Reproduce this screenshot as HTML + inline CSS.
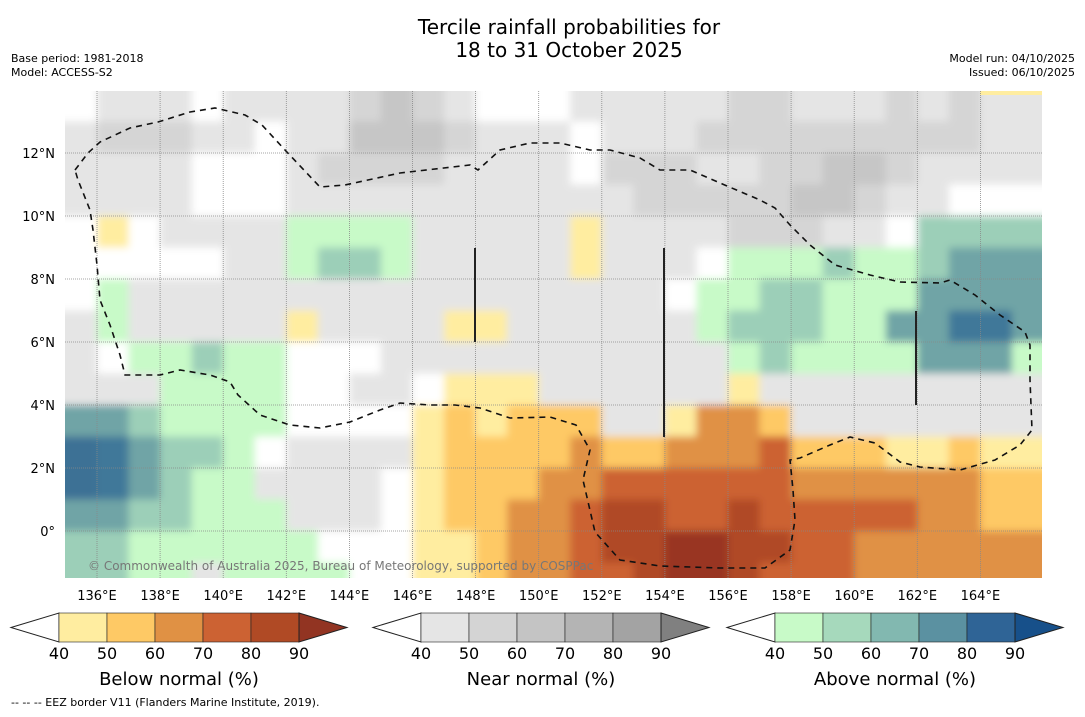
<!DOCTYPE html>
<html><head><meta charset="utf-8">
<style>
body{margin:0;background:#fff;width:1085px;height:713px;overflow:hidden;font-family:"DejaVu Sans","Liberation Sans",sans-serif;}
svg text{font-family:"DejaVu Sans","Liberation Sans",sans-serif;}
</style></head>
<body>
<svg id="chart" width="1085" height="713" viewBox="0 0 1085 713" xmlns="http://www.w3.org/2000/svg">
<defs>
<clipPath id="mapclip"><rect x="65" y="91" width="977" height="487"/></clipPath>
<filter id="soft" x="-5%" y="-5%" width="110%" height="110%"><feGaussianBlur stdDeviation="4" edgeMode="duplicate"/></filter>
</defs>
<rect width="1085" height="713" fill="#fff"/>
<text x="569" y="34" font-size="20" text-anchor="middle">Tercile rainfall probabilities for</text>
<text x="569" y="57" font-size="20" text-anchor="middle">18 to 31 October 2025</text>
<text x="11" y="62" font-size="11">Base period: 1981-2018</text>
<text x="11" y="76" font-size="11">Model: ACCESS-S2</text>
<text x="1075" y="62" font-size="11" text-anchor="end">Model run: 04/10/2025</text>
<text x="1075" y="76" font-size="11" text-anchor="end">Issued: 06/10/2025</text>
<g clip-path="url(#mapclip)"><g id="cells" filter="url(#soft)"></g></g>
<rect x="980" y="91" width="62" height="4" fill="#ffeda0"/>
<g id="grid"></g>
<path fill="none" stroke="#111" stroke-width="1.6" stroke-dasharray="6,5"
d="M75,170 L88,153 L100,142 L130,128 L158,122 L190,112 L215,108 L245,115 L262,125 L285,150 L320,187 L345,185 L400,173 L470,165 L478,170 L500,150 L530,143 L560,143 L590,150 L610,150 L640,158 L660,170 L690,170 L720,183 L760,200 L775,208 L790,225 L810,245 L835,265 L870,275 L900,282 L940,283 L950,280 L975,295 L1000,315 L1025,332 L1030,345 L1030,380 L1032,430 L1020,445 L995,460 L960,470 L920,467 L900,462 L875,443 L850,437 L830,445 L800,458 L790,460 L793,490 L795,520 L790,550 L765,568 L720,568 L660,566 L620,560 L595,532 L583,480 L590,450 L576,425 L550,417 L510,418 L480,408 L455,405 L430,405 L400,403 L380,410 L350,422 L320,428 L290,425 L260,415 L238,395 L230,382 L210,375 L180,370 L160,375 L125,375 L120,355 L110,325 L100,300 L97,265 L93,230 L90,210 L78,180 Z"/>
<line x1="475" y1="248" x2="475" y2="342" stroke="#222" stroke-width="2"/>
<line x1="664" y1="248" x2="664" y2="437" stroke="#222" stroke-width="2"/>
<line x1="916" y1="311" x2="916" y2="405" stroke="#222" stroke-width="2"/>
<text x="88" y="570" font-size="12" fill="#777">© Commonwealth of Australia 2025, Bureau of Meteorology, supported by COSPPac</text>
<g id="xlabels"></g>
<g id="ylabels"></g>
<g id="bars"></g>
<text x="11" y="706" font-size="11">-- -- -- EEZ border V11 (Flanders Marine Institute, 2019).</text>
</svg>
<script>
// Grid data: rows from 14N down to -2 (1° bands), cols lon 135..165
const lonStart = 135;
const latTop = 14;
const gridRows = [
".ggg.gggghkhg...ggggghhggghghgg",
"ghhhgg.ggkkkhggg.ggghhhhhhhhhgg",
"gggg...ghhhhgggg.hhhgghhkkhgggg",
"gggg...ggggggggggghhhhhkkhgg...",
".y.ggggccccgggggygggghhhgg.CCCC",
".....ggcCCcgggggyggg.cccCccCttt",
".c"+"ggggggggg"+"gggggggg"+"."+"cc"+"CC"+"ccc"+"tttt",
"gcgggggyggggyyggggggcCCCccttbbt",
"g.ccCcc...gggggggggggcCcccctttc",
"gggcccc..gg.yyyggggggyggggggggg",
"ttCcccc....yoyooogg"+"yOOogggggggg",
"BbtCCc.ggggyooooOooOOOrooo"+"yyoyy",
"BbtCccgggg.yoooOOrrrrrrOOOOOOoo",
"ttCCcccggg.yooOOrRRrrRrrrrrOOoo",
"CCcccccc...yyoOOrRRDDRRrrOOOOOO",
"CCccgcccc..yyoOOrrRDDRrrrOOOOOO"
];
const palette = {
".":"#ffffff","g":"#e5e5e5","h":"#d5d5d5","k":"#c6c6c6",
"y":"#ffeda0","o":"#fec965","O":"#e09144","r":"#cc6233","R":"#b04a25","D":"#993520",
"c":"#c8fac8","C":"#9ccfb8","t":"#6fa4a6","b":"#3f7899","B":"#3d7195"
};
const xTicks = [136,138,140,142,144,146,148,150,152,154,156,158,160,162,164];
const yTicks = [12,10,8,6,4,2,0];
const cbTicks = [40,50,60,70,80,90];
const belowColors = ["#ffeda0","#fec965","#e09144","#cc6233","#b04a25"];
const nearColors = ["#e5e5e5","#d4d4d4","#c4c4c4","#b4b4b4","#a3a3a3"];
const aboveColors = ["#c8fac8","#a6d9bc","#82b8b0","#5b91a1","#2f6496"];
const NS = "http://www.w3.org/2000/svg";
const mapL=65, mapR=1042, mapT=91, mapB=578;
function xLon(lon){return 97+(lon-136)*31.55;}
function yLat(lat){return 531-lat*31.5;}
function mk(tag,attrs,parent){const e=document.createElementNS(NS,tag);for(const k in attrs)e.setAttribute(k,attrs[k]);parent.appendChild(e);return e;}
const cells=document.getElementById('cells');
gridRows.forEach((row,r)=>{
  for(let c=0;c<31;c++){
    const ch=row[c]||"g";
    let x0=xLon(lonStart+c), x1=xLon(lonStart+c+1);
    let y0=yLat(latTop-r), y1=yLat(latTop-r-1);
    if(c===0) x0-=20; if(c===30) x1+=20;
    if(r===0) y0-=20; if(r===gridRows.length-1) y1+=20;
    const rc=mk('rect',{x:x0,y:y0,width:x1-x0+0.6,height:y1-y0+0.6,fill:palette[ch]||"#e5e5e5"},cells);
    
    
  }
});
const grid=document.getElementById('grid');
xTicks.forEach(t=>{const l=mk('line',{x1:xLon(t),x2:xLon(t),y1:mapT,y2:mapB,stroke:"#888","stroke-width":0.8,"stroke-dasharray":"1,1"},grid);

});
yTicks.forEach(t=>{const l=mk('line',{x1:mapL,x2:mapR,y1:yLat(t),y2:yLat(t),stroke:"#888","stroke-width":0.8,"stroke-dasharray":"1,1"},grid);

});
const xl=document.getElementById('xlabels');
xTicks.forEach(t=>{const e=mk('text',{x:xLon(t),y:600,"font-size":13,"text-anchor":"middle"},xl);e.textContent=t+"°E";

});
const yl=document.getElementById('ylabels');
yTicks.forEach(t=>{const e=mk('text',{x:55,y:yLat(t)+5,"font-size":13,"text-anchor":"end"},yl);e.textContent=t===0?"0°":t+"°N";

});
const bars=document.getElementById('bars');
function colorbar(x0,cols,endCol,title){
  const g=mk('g',{},bars);
  
  
  const w=48,y0=613,y1=642,ym=627.5,bx=x0+48;
  mk('polygon',{points:`${x0},${ym} ${bx},${y0} ${bx},${y1}`,fill:"#fff",stroke:"#222","stroke-width":1},g);
  cols.forEach((c,i)=>{mk('rect',{x:bx+i*w,y:y0,width:w,height:y1-y0,fill:c,stroke:"#222","stroke-width":0.6},g);});
  const ex=bx+5*w;
  mk('polygon',{points:`${ex},${y0} ${ex+48},${ym} ${ex},${y1}`,fill:endCol,stroke:"#222","stroke-width":1},g);
  cbTicks.forEach((t,i)=>{const e=mk('text',{x:bx+i*w,y:659,"font-size":16,"text-anchor":"middle"},g);e.textContent=t;
  
  });
  const tt=mk('text',{x:bx+2.5*w,y:685,"font-size":18,"text-anchor":"middle"},g);tt.textContent=title;
  
  
}
colorbar(11,belowColors,"#923422","Below normal (%)");
colorbar(373,nearColors,"#808080","Near normal (%)");
colorbar(727,aboveColors,"#17508a","Above normal (%)");
</script>
</body></html>
